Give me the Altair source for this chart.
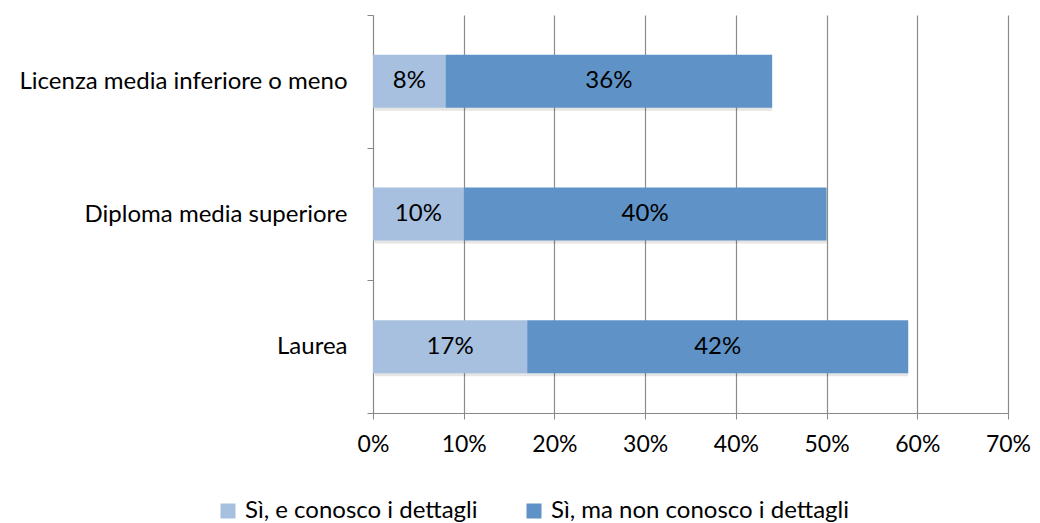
import altair as alt
import pandas as pd

categories = ["Licenza media inferiore o meno", "Diploma media superiore", "Laurea"]
series = ["Sì, e conosco i dettagli", "Sì, ma non conosco i dettagli"]
val_dettagli = [8, 10, 17]
val_non_dettagli = [36, 40, 42]
colors = ["#A7C0E0", "#5F93C7"]

rows = []
for i, c in enumerate(categories):
    rows.append({"cat": c, "serie": series[0], "val": val_dettagli[i], "ord": 0})
    rows.append({"cat": c, "serie": series[1], "val": val_non_dettagli[i], "ord": 1})
df = pd.DataFrame(rows)

FONT = "Lato"

base = alt.Chart(df).transform_stack(
    stack="val", groupby=["cat"], as_=["x0", "x1"], sort=[alt.SortField("ord", "ascending")]
).transform_calculate(
    mid="(datum.x0 + datum.x1) / 2", lab="datum.val + '%'"
)

yscale = alt.Scale(domain=categories, paddingInner=0, paddingOuter=0)
yenc = alt.Y("cat:N", sort=categories, title=None, scale=yscale,
             axis=alt.Axis(labelFontSize=24, labelFont=FONT, labelColor="#000000",
                           labelPadding=20, labelLimit=500, domainColor="#888888",
                           tickColor="#888888", tickBand="extent", tickSize=6, grid=False))
xscale = alt.Scale(domain=[0, 70], nice=False)

shadow = base.transform_aggregate(
    tot="sum(val)", groupby=["cat"]
).transform_calculate(zero="0").mark_bar(
    height={"band": 0.4}, color="#000000", opacity=0.1, xOffset=2, yOffset=3
).encode(
    x=alt.X("zero:Q", scale=xscale),
    x2="tot:Q",
    y=alt.Y("cat:N", sort=categories, scale=yscale),
)

bars = base.mark_bar(height={"band": 0.4}).encode(
    x=alt.X("x0:Q", scale=xscale, title=None,
            axis=alt.Axis(values=[0, 10, 20, 30, 40, 50, 60, 70],
                          labelExpr="datum.value + '%'", labelFontSize=23, labelFont=FONT,
                          labelColor="#000000", labelPadding=14, labelFlush=False,
                          domainColor="#888888", tickColor="#888888", tickSize=6,
                          grid=True, gridColor="#8c8c8c", gridWidth=1.2)),
    x2="x1:Q",
    y=yenc,
    color=alt.Color("serie:N", sort=series, scale=alt.Scale(domain=series, range=colors),
                    legend=alt.Legend(title=None, orient="none", direction="horizontal",
                                      legendX=-157, legendY=484, symbolType="square",
                                      symbolSize=225, symbolStrokeWidth=0,
                                      labelFontSize=24, labelFont=FONT, labelColor="#000000",
                                      labelLimit=500, labelOffset=5, columnPadding=44)),
)

text = base.mark_text(fontSize=24, font=FONT, color="#000000").encode(
    x=alt.X("mid:Q", scale=xscale),
    y=alt.Y("cat:N", sort=categories, scale=yscale),
    text="lab:N",
)

chart = alt.layer(shadow, bars, text).properties(
    width=635, height=398,
    autosize=alt.AutoSizeParams(type="none"),
    padding={"left": 365, "top": 7, "right": 24, "bottom": 110},
).configure_view(stroke=None)

chart.save("out.html", embed_options={"renderer": "svg", "actions": False})
